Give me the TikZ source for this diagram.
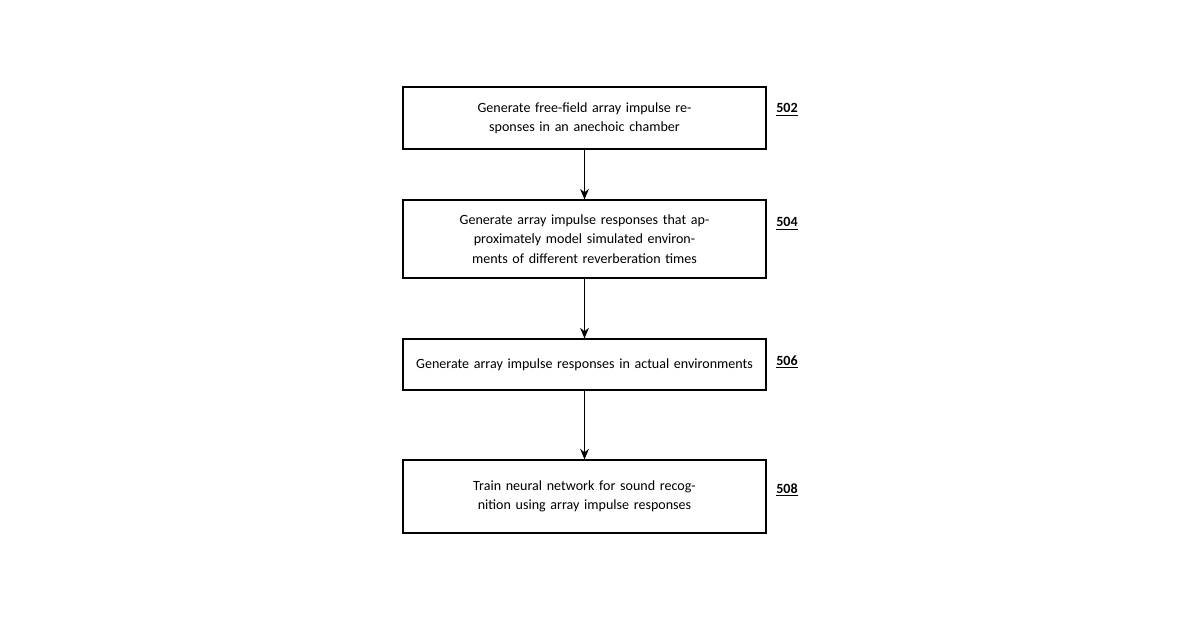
\documentclass[tikz,border=0pt]{standalone}
\usepackage{fontspec}
\setmainfont{Carlito}
\usetikzlibrary{arrows.meta}
\usetikzlibrary{positioning}

\tikzset{
	stage/.style={draw, line width=0.7pt, minimum width=7.26cm, text width=6.9cm, align=center, inner sep=0pt, font=\fontsize{8}{11}\selectfont},
	tag/.style={font=\fontsize{8}{10}\selectfont\bfseries, inner sep=0pt},
	flow/.style={-{Stealth[length=6pt, width=5pt]}, line width=0.7pt}
}

\begin{document}
\begin{tikzpicture}[x=0.02cm, y=-0.02cm]
	\useasboundingbox (0,0) rectangle (1200,630);

	\node[stage, minimum height=1.24cm] (s502) at (584.5,118) {Generate free-field array impulse responses in an anechoic chamber};
	\node[stage, minimum height=1.56cm] (s504) at (584.5,239) {Generate array impulse responses that approximately model simulated environments of different reverberation times};
	\node[stage, minimum height=1.02cm] (s506) at (584.5,364.5) {Generate array impulse responses in actual environments};
	\node[stage, minimum height=1.46cm] (s508) at (584.5,496.5) {Train neural network for sound recognition using array impulse responses};

	\node[tag] (l502) at (787,110) {\underline{502}};
	\node[tag] (l504) at (787,224) {\underline{504}};
	\node[tag] (l506) at (787,362) {\underline{506}};
	\node[tag] (l508) at (787,490) {\underline{508}};

	\draw[flow] (s502) -- (s504);
	\draw[flow] (s504) -- (s506);
	\draw[flow] (s506) -- (s508);
\end{tikzpicture}
\end{document}
